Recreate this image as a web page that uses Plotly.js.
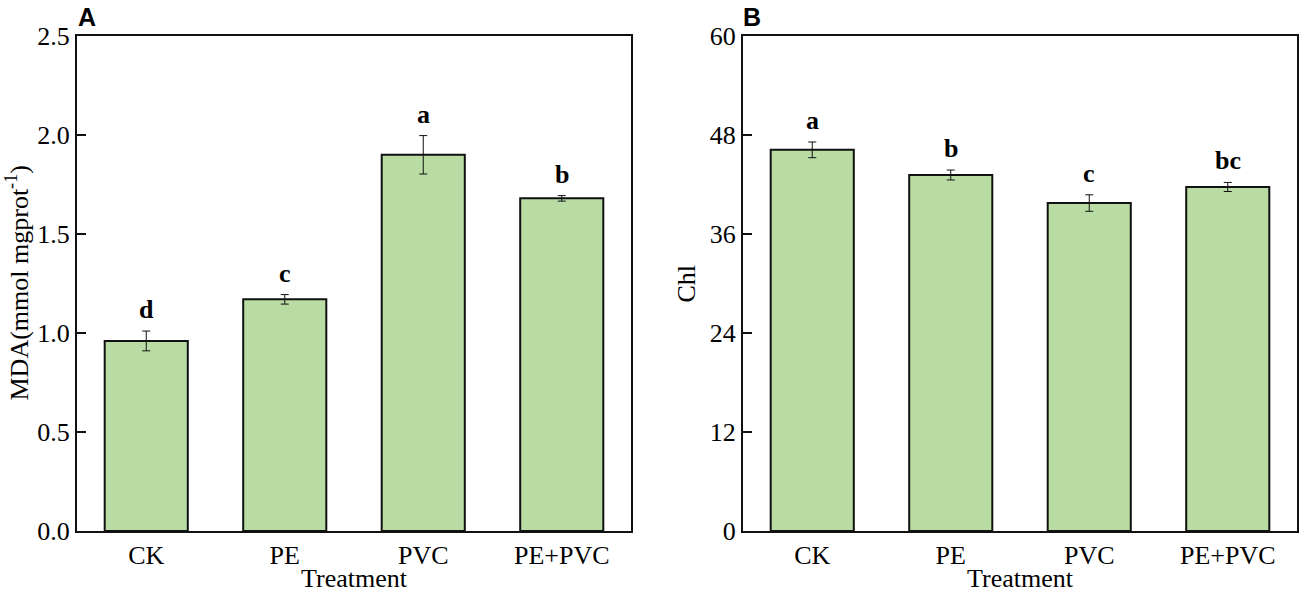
<!DOCTYPE html>
<html>
<head>
<meta charset="utf-8">
<script src="https://cdn.plot.ly/plotly-3.0.1.min.js"></script>
<style>
  html, body { margin: 0; padding: 0; background: #fff; }
  #chart { width: 1299px; height: 593px; }
</style>
</head>
<body>
<div id="chart"></div>
<script>
// data
var treatments = ['CK', 'PE', 'PVC', 'PE+PVC'];

var mdaMean = [0.96, 1.17, 1.90, 1.68];
var mdaErr  = [0.05, 0.024, 0.097, 0.014];
var mdaLetters = ['d', 'c', 'a', 'b'];

var chlMean = [46.2, 43.15, 39.75, 41.7];
var chlErr  = [0.95, 0.6, 1.0, 0.55];
var chlLetters = ['a', 'b', 'c', 'bc'];

var barColor = 'rgb(185,220,164)';
var serif = 'Liberation Serif, Times New Roman, serif';
var W = 1299, PH = 495;   // page width, plot height in px

function barTrace(vals, errs, xa, ya) {
    return {
        type: 'bar',
        x: treatments,
        y: vals,
        xaxis: xa,
        yaxis: ya,
        width: 0.6,
        marker: {color: barColor, line: {color: '#111', width: 2}},
        error_y: {type: 'data', array: errs, visible: true, color: '#111', thickness: 1, width: 4},
        hoverinfo: 'x+y',
        showlegend: false
    };
}

var data = [
    barTrace(mdaMean, mdaErr, 'x', 'y'),
    barTrace(chlMean, chlErr, 'x2', 'y2')
];

var annotations = [];
// significance letters
for (var i = 0; i < treatments.length; i++) {
    annotations.push({
        xref: 'x', yref: 'y', x: treatments[i], y: mdaMean[i] + mdaErr[i],
        text: '<b>' + mdaLetters[i] + '</b>', showarrow: false,
        yanchor: 'bottom', yshift: 5,
        font: {family: serif, size: 26, color: '#000'}
    });
    annotations.push({
        xref: 'x2', yref: 'y2', x: treatments[i], y: chlMean[i] + chlErr[i],
        text: '<b>' + chlLetters[i] + '</b>', showarrow: false,
        yanchor: 'bottom', yshift: 5,
        font: {family: serif, size: 26, color: '#000'}
    });
}

// panel labels
var sans = 'Liberation Sans, Arial, sans-serif';
annotations.push({xref: 'paper', yref: 'paper', x: 76 / W, y: 1.0, xanchor: 'left', yanchor: 'bottom', yshift: 3,
    text: '<b>A</b>', showarrow: false, font: {family: sans, size: 25, color: '#000'}});
annotations.push({xref: 'paper', yref: 'paper', x: 741 / W, y: 1.0, xanchor: 'left', yanchor: 'bottom', yshift: 3,
    text: '<b>B</b>', showarrow: false, font: {family: sans, size: 25, color: '#000'}});

// axis titles
annotations.push({xref: 'paper', yref: 'paper', x: 18 / W, y: 0.5, textangle: -90,
    xanchor: 'center', yanchor: 'middle', showarrow: false,
    text: 'MDA(mmol mgprot<sup>-1</sup>)', font: {family: serif, size: 26, color: '#000'}});
annotations.push({xref: 'paper', yref: 'paper', x: 686 / W, y: 0.5, textangle: -90,
    xanchor: 'center', yanchor: 'middle', showarrow: false,
    text: 'Chl', font: {family: serif, size: 26, color: '#000'}});
annotations.push({xref: 'paper', yref: 'paper', x: 354 / W, y: -47 / PH,
    xanchor: 'center', yanchor: 'middle', showarrow: false,
    text: 'Treatment', font: {family: serif, size: 26, color: '#000'}});
annotations.push({xref: 'paper', yref: 'paper', x: 1020 / W, y: -47 / PH,
    xanchor: 'center', yanchor: 'middle', showarrow: false,
    text: 'Treatment', font: {family: serif, size: 26, color: '#000'}});

var xCommon = {
    showline: true, mirror: true, linecolor: '#111', linewidth: 2,
    ticks: '', showgrid: false, zeroline: false,
    tickfont: {family: serif, size: 26, color: '#000'},
    fixedrange: true
};
var yCommon = {
    showline: true, mirror: true, linecolor: '#111', linewidth: 2,
    ticks: 'inside', ticklen: 9, tickwidth: 1.5, tickcolor: '#111',
    showgrid: false, zeroline: false,
    tickfont: {family: serif, size: 26, color: '#000'},
    domain: [0, 1], fixedrange: true
};

var layout = {
    width: W,
    height: 593,
    margin: {l: 0, r: 0, t: 36, b: 62},
    paper_bgcolor: '#fff',
    plot_bgcolor: '#fff',
    xaxis: Object.assign({}, xCommon, {domain: [77 / W, 631 / W], anchor: 'y'}),
    yaxis: Object.assign({}, yCommon, {range: [0, 2.5], tickvals: [0, 0.5, 1.0, 1.5, 2.0, 2.5],
        ticktext: ['0.0', '0.5', '1.0', '1.5', '2.0', '2.5'], anchor: 'x'}),
    xaxis2: Object.assign({}, xCommon, {domain: [743 / W, 1297 / W], anchor: 'y2'}),
    yaxis2: Object.assign({}, yCommon, {range: [0, 60], tickvals: [0, 12, 24, 36, 48, 60], anchor: 'x2'}),
    annotations: annotations,
    bargap: 0.4
};

Plotly.newPlot('chart', data, layout, {displayModeBar: false, staticPlot: true});
</script>
</body>
</html>
